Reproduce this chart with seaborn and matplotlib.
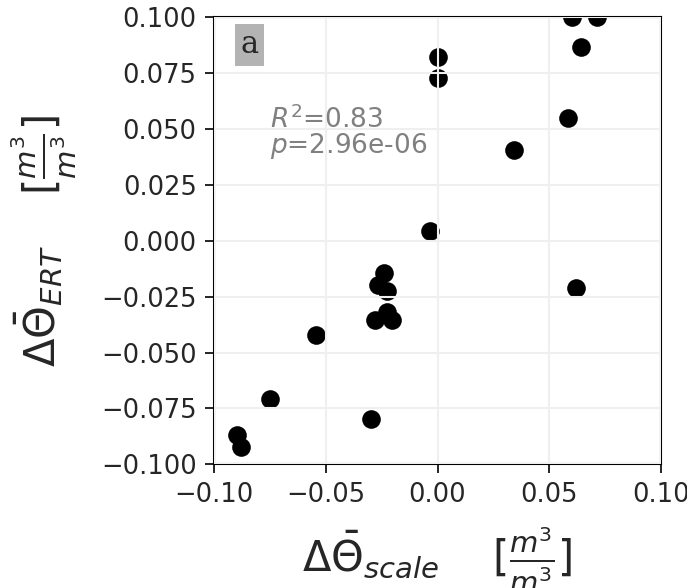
import numpy as np
import pandas as pd
import matplotlib
matplotlib.use("Agg")
import matplotlib.pyplot as plt
import seaborn as sns

# values
d_scale = [0.0602, 0.0714, 0.0642, 0.0, 0.0, 0.0585, 0.0341, -0.0035,
           -0.0241, -0.0266, -0.0226, 0.0621, -0.0225, -0.0281, -0.0202,
           -0.0542, -0.0748, -0.0296, -0.0897, -0.0878]
d_ert = [0.100, 0.100, 0.0868, 0.0824, 0.0727, 0.0548, 0.0406, 0.0044,
         -0.0143, -0.0198, -0.0223, -0.021, -0.0317, -0.0354, -0.0354,
         -0.0421, -0.0708, -0.0797, -0.0869, -0.0921]
r2 = 0.83
pval = "2.96e-06"
panel = "a"

df = pd.DataFrame({"scale": d_scale, "ert": d_ert})

sns.set_style("whitegrid", {"axes.edgecolor": "black", "grid.color": "#efefef",
                            "xtick.bottom": True, "ytick.left": True})

fig = plt.figure(figsize=(6.87, 5.88), dpi=100)
ax = fig.add_axes([214/687, 1-464.3/588, 447/687, 447/588])
sns.scatterplot(data=df, x="scale", y="ert", color="black", s=180,
                linewidth=0, ax=ax)
ax.set_axisbelow(False)
ax.set_xlim(-0.1, 0.1)
ax.set_ylim(-0.1, 0.1)
ax.set_xticks([-0.1, -0.05, 0, 0.05, 0.1])
ax.set_yticks(np.linspace(-0.1, 0.1, 9))
ax.tick_params(labelsize=18.5, length=6.5, width=1.2, color="black",
               direction="out", pad=6)
for s in ax.spines.values():
    s.set_linewidth(1.5)
ax.grid(True, linewidth=1.5)

ax.set_xlabel(r"$\Delta\bar{\Theta}_{scale}$    $[\frac{m^3}{m^3}]$",
              fontsize=30, labelpad=12)
ax.set_ylabel(r"$\Delta\bar{\Theta}_{ERT}$    $[\frac{m^3}{m^3}]$",
              fontsize=30, labelpad=16)

ax.text(0.125, 0.752, f"$R^2$={r2:.2f}", transform=ax.transAxes,
        fontsize=19, color="gray", va="baseline")
ax.text(0.125, 0.696, "$p$=" + pval, transform=ax.transAxes,
        fontsize=19, color="gray", va="baseline")
ax.text(0.0794, 0.939, panel, transform=ax.transAxes, fontsize=22,
        family="DejaVu Serif", va="center", ha="center",
        bbox=dict(facecolor="#b3b3b3", edgecolor="none", pad=4))

fig.savefig("out.png", dpi=100)
